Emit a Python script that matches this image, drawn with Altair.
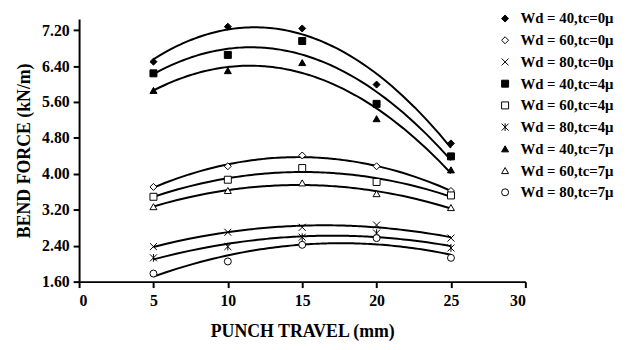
import altair as alt
import pandas as pd

x_vals = [5, 10, 15, 20, 25]
series_names = [
    "Wd = 40,tc=0μ", "Wd = 60,tc=0μ", "Wd = 80,tc=0μ",
    "Wd = 40,tc=4μ", "Wd = 60,tc=4μ", "Wd = 80,tc=4μ",
    "Wd = 40,tc=7μ", "Wd = 60,tc=7μ", "Wd = 80,tc=7μ",
]
wd40_tc0 = [6.50, 7.28, 7.24, 5.99, 4.68]
wd60_tc0 = [3.71, 4.17, 4.41, 4.17, 3.62]
wd80_tc0 = [2.38, 2.70, 2.81, 2.86, 2.57]
wd40_tc4 = [6.24, 6.65, 6.96, 5.56, 4.39]
wd60_tc4 = [3.49, 3.87, 4.13, 3.82, 3.52]
wd80_tc4 = [2.13, 2.38, 2.59, 2.68, 2.35]
wd40_tc7 = [5.86, 6.30, 6.48, 5.23, 4.09]
wd60_tc7 = [3.27, 3.63, 3.80, 3.56, 3.25]
wd80_tc7 = [1.78, 2.05, 2.42, 2.57, 2.13]
series_values = [wd40_tc0, wd60_tc0, wd80_tc0, wd40_tc4, wd60_tc4,
                 wd80_tc4, wd40_tc7, wd60_tc7, wd80_tc7]
y_ticks = [1.6, 2.4, 3.2, 4.0, 4.8, 5.6, 6.4, 7.2]
x_ticks = [0, 5, 10, 15, 20, 25, 30]

rows = []
for name, vals in zip(series_names, series_values):
    for xv, yv in zip(x_vals, vals):
        rows.append({"travel": xv, "force": yv, "series": name})
df = pd.DataFrame(rows)

X_PATH = "M-1,-1L1,1M-1,1L1,-1"
AST_PATH = "M-1,-1L1,1M-1,1L1,-1M0,-1.1L0,1.1"
shape_range = ["diamond", "diamond", X_PATH, "square", "square", AST_PATH,
               "triangle-up", "triangle-up", "circle"]
fill_range = ["black", "white", "black", "black", "white", "black",
              "black", "white", "white"]
stroke_range = ["black"] * 9

FONT = "Liberation Serif"

x_enc = alt.X("travel:Q", scale=alt.Scale(domain=[0, 30], nice=False),
              axis=alt.Axis(values=x_ticks, title="PUNCH TRAVEL (mm)",
                            format="d"))
y_enc = alt.Y("force:Q", scale=alt.Scale(domain=[1.6, 7.45], nice=False, zero=False),
              axis=alt.Axis(values=y_ticks, title="BEND FORCE (kN/m)",
                            format=".2f"))

lines = alt.Chart(df).transform_regression(
    "travel", "force", groupby=["series"], method="poly", order=2
).mark_line(color="black", strokeWidth=2).encode(
    x=x_enc, y=y_enc, detail="series:N"
)

points = alt.Chart(df).mark_point(size=50, strokeWidth=1,
                                  opacity=1, filled=False).encode(
    x=x_enc, y=y_enc,
    shape=alt.Shape("series:N", scale=alt.Scale(domain=series_names, range=shape_range),
                    legend=alt.Legend(title=None)),
    fill=alt.Fill("series:N", scale=alt.Scale(domain=series_names, range=fill_range),
                  legend=alt.Legend(title=None)),
    stroke=alt.Stroke("series:N", scale=alt.Scale(domain=series_names, range=stroke_range),
                      legend=alt.Legend(title=None)),
)

chart = alt.layer(lines, points).properties(
    width=452, height=266,
    autosize=alt.AutoSizeParams(type="none"),
    padding={"left": 72, "top": 9, "right": 105, "bottom": 60},
).configure_view(stroke=None).configure_axis(
    domainColor="black", domainWidth=2, tickColor="black", tickWidth=2,
    tickSize=6, grid=False,
    labelFont=FONT, labelFontWeight="bold", labelFontSize=16, labelColor="black",
    titleFont=FONT, titleFontWeight="bold", titleFontSize=18, titleColor="black",
).configure_axisX(labelPadding=5, titlePadding=15, labelAngle=0).configure_axisY(
    labelPadding=4, titlePadding=8
).configure_legend(
    orient="none", legendX=424, legendY=-8,
    labelFont=FONT, labelFontWeight="bold", labelFontSize=15, labelColor="black",
    symbolSize=50, symbolStrokeWidth=1,
    rowPadding=6, labelOffset=8,
)

chart.save("out.html", embed_options={"renderer": "svg", "actions": False})
